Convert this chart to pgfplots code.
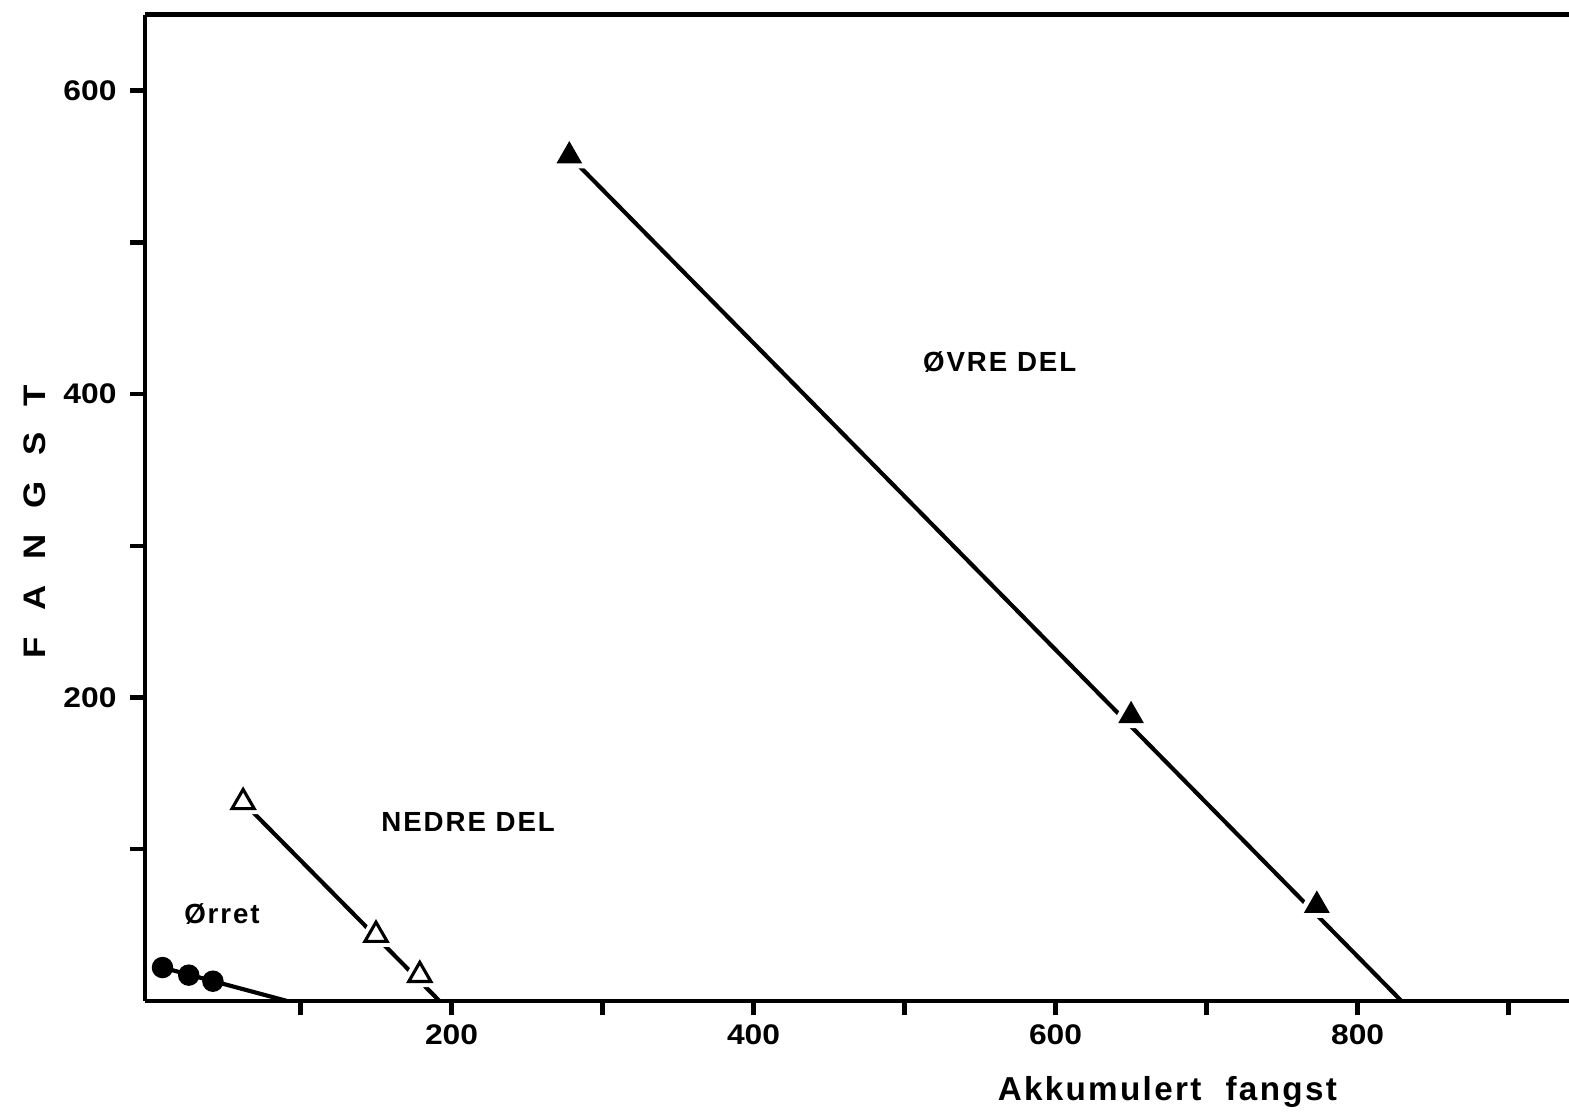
\documentclass[border=0pt]{standalone}
\usepackage{fontspec}
\setmainfont{Liberation Sans}
\newfontfamily\tickfont[FakeStretch=1.12]{Liberation Sans}
\newfontfamily\labfont[LetterSpace=7]{Liberation Sans}
\usepackage{pgfplots}
\pgfplotsset{compat=1.18}

\pgfplotstableread{
x y
278 557
650 188
773 63
}\ovre
\pgfplotstableread{
x y
62 131
150 43.5
179 17
}\nedre
\pgfplotstableread{
x y
8.6 22
26 17
42 13
}\orret

\begin{document}
\begin{tikzpicture}
\begin{axis}[
  name=ax,
  scale only axis,
  width=411.6pt, height=285pt,
  xmin=-3, xmax=940, ymin=0, ymax=650,
  axis x line*=box, axis y line*=left,
  axis line style={-, line width=1.4pt},
  xtick pos=left, ytick pos=left,
  tick align=outside,
  major tick length=4.2pt,
  tick style={line width=1.3pt, black},
  xtick={100,200,...,900},
  xticklabels={,\textbf{200},,\textbf{400},,\textbf{600},,\textbf{800},},
  ytick={100,200,...,600},
  yticklabels={,\textbf{200},,\textbf{400},,\textbf{600}},
  ticklabel style={font=\tickfont\fontsize{8.2}{9}\selectfont},
  xticklabel style={yshift=1pt},
  yticklabel style={xshift=-0.5pt},
  clip=false,
]
% fitted lines
\addplot[black, line width=1.2pt] coordinates {(278,557) (829,0)};
\addplot[black, line width=1.2pt] coordinates {(62,131) (192,0)};
\addplot[black, line width=1.2pt] coordinates {(8.6,22) (91,0)};
% white halos
\addplot[only marks, mark=triangle*, mark size=6.8pt, mark options={fill=white, draw=white}] table {\ovre};
\addplot[only marks, mark=triangle*, mark size=6.5pt, mark options={fill=white, draw=white}] table {\nedre};
% markers
\addplot[only marks, mark=triangle*, mark size=3.9pt, mark options={fill=black, draw=black}] table {\ovre};
\addplot[only marks, mark=triangle*, mark size=3.7pt, mark options={fill=white, draw=black, line width=0.9pt}] table {\nedre};
\addplot[only marks, mark=*, mark size=2.9pt, mark options={fill=black, draw=black}] table {\orret};
% labels
\node[font=\labfont\bfseries\fontsize{8}{9}\selectfont] at (axis cs:563,421) {ØVRE DEL};
\node[font=\labfont\bfseries\fontsize{8}{9}\selectfont] at (axis cs:211,118) {NEDRE DEL};
\node[font=\labfont\bfseries\fontsize{8}{9}\selectfont] at (axis cs:48,57) {Ørret};
\node[font=\labfont\bfseries\fontsize{9.6}{10}\selectfont] at (axis cs:674,-60) {Akkumulert\hspace{7pt}fangst};
\node[rotate=90, font=\tickfont\bfseries\fontsize{9}{10}\selectfont] at (axis cs:-76,316) {F\hspace{7.5pt}A\hspace{7.5pt}N\hspace{7.5pt}G\hspace{7.5pt}S\hspace{7.5pt}T};
\end{axis}
\pgfresetboundingbox
\path ([shift={(-41.9pt,-32.1pt)}]ax.south west) rectangle ([shift={(0pt,4.3pt)}]ax.north east);
\end{tikzpicture}
\end{document}
